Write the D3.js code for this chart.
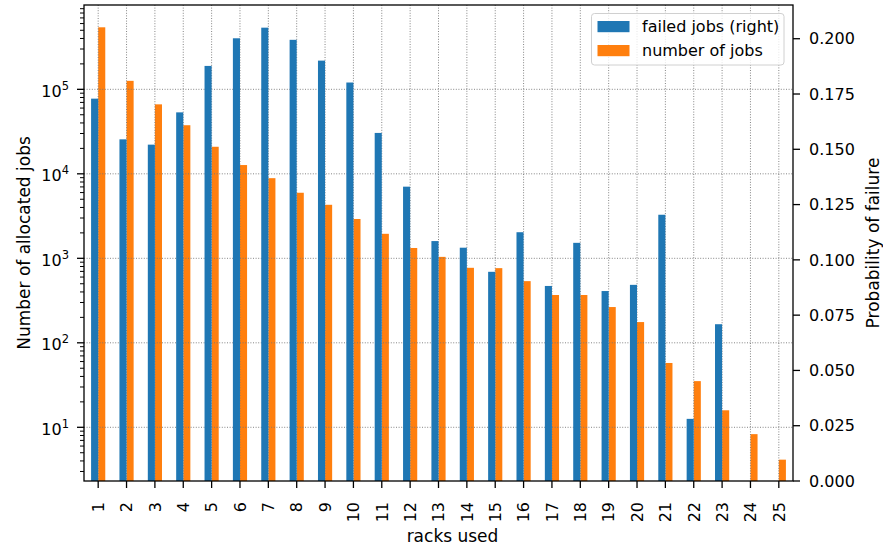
<!DOCTYPE html>
<html><head><meta charset="utf-8">
<script src="https://cdn.jsdelivr.net/npm/d3@7"></script>
<style>
body{margin:0;background:#fff;}
svg{display:block;font-family:"DejaVu Sans",sans-serif;}
</style></head>
<body>
<svg id="chart" width="883" height="550"></svg>
<script>
const categories = ["1","2","3","4","5","6","7","8","9","10","11","12","13","14","15","16","17","18","19","20","21","22","23","24","25"];
const failedJobs = [0.1729,0.1545,0.1521,0.1667,0.1877,0.2002,0.2050,0.1995,0.1901,0.1802,0.1574,0.1331,0.1085,0.1055,0.0946,0.1125,0.0882,0.1077,0.0859,0.0887,0.1204,0.0281,0.0709,0,0];
const numberOfJobs = [542000,126000,66400,37600,20900,12700,8880,5970,4300,2920,1950,1325,1040,772,765,537,368,368,265,176,57.7,35.2,15.9,8.3,4.14];
const leftTickExps = [1,2,3,4,5];
const rightTicks = [0,0.025,0.05,0.075,0.1,0.125,0.15,0.175,0.2];
const seriesNames = ["failed jobs (right)","number of jobs"];
const colors = ["#1f77b4","#ff7f0e"];

const svg = d3.select("#chart");
const L = 84, R = 793, T = 5, B = 481;
const FS = 16, LFS = 17;

const x = d3.scaleBand().domain(categories).range([L, R]).paddingInner(0).paddingOuter(0);
const bw = x.bandwidth() * 0.25;
const yL = d3.scaleLog().domain([Math.pow(10,0.3645), Math.pow(10,5.998)]).range([B, T]);
const yR = d3.scaleLinear().domain([0, 0.21525]).range([B, T]);

const cx = c => x(c) + x.bandwidth()/2;

// orange bars (left axis)
svg.append("g").selectAll("rect").data(categories).join("rect")
  .attr("x", c => cx(c))
  .attr("width", bw)
  .attr("y", (c,i) => yL(numberOfJobs[i]))
  .attr("height", (c,i) => B - yL(numberOfJobs[i]))
  .attr("fill", colors[1]);

// grid
const grid = svg.append("g").attr("stroke","#777").attr("stroke-width",0.9).attr("stroke-dasharray","1,1.6");
grid.selectAll("line.h").data(leftTickExps).join("line")
  .attr("x1", L).attr("x2", R)
  .attr("y1", e => yL(Math.pow(10,e))).attr("y2", e => yL(Math.pow(10,e)));
grid.selectAll("line.v").data(categories).join("line")
  .attr("x1", c => cx(c)).attr("x2", c => cx(c))
  .attr("y1", T).attr("y2", B);

// blue bars (right axis)
svg.append("g").selectAll("rect").data(categories).join("rect")
  .attr("x", c => cx(c) - bw)
  .attr("width", bw)
  .attr("y", (c,i) => yR(failedJobs[i]))
  .attr("height", (c,i) => B - yR(failedJobs[i]))
  .attr("fill", colors[0]);

// spines
svg.append("rect").attr("x",L).attr("y",T).attr("width",R-L).attr("height",B-T)
  .attr("fill","none").attr("stroke","#000").attr("stroke-width",1.3);

// left axis ticks
const lt = svg.append("g");
const minors = [];
for (let e = 0; e <= 5; e++) for (let m = 2; m <= 9; m++) {
  const v = m*Math.pow(10,e);
  if (yL(v) <= B && yL(v) >= T) minors.push(v);
}
lt.selectAll("line.mi").data(minors).join("line")
  .attr("x1", L-4).attr("x2", L).attr("y1", v=>yL(v)).attr("y2", v=>yL(v))
  .attr("stroke","#000").attr("stroke-width",1);
lt.selectAll("line.ma").data(leftTickExps).join("line")
  .attr("x1", L-7).attr("x2", L).attr("y1", e=>yL(Math.pow(10,e))).attr("y2", e=>yL(Math.pow(10,e)))
  .attr("stroke","#000").attr("stroke-width",1.3);
const ltl = lt.selectAll("text").data(leftTickExps).join("text")
  .attr("x", L-15).attr("y", e => yL(Math.pow(10,e)) + 7.5)
  .attr("text-anchor","end").attr("font-size",FS).attr("fill","#000");
ltl.append("tspan").text("10");
ltl.append("tspan").attr("dy",-7).attr("font-size",11.5).text(e => e);

// right axis ticks
const rt = svg.append("g");
rt.selectAll("line").data(rightTicks).join("line")
  .attr("x1", R).attr("x2", R+7).attr("y1", v=>yR(v)).attr("y2", v=>yR(v))
  .attr("stroke","#000").attr("stroke-width",1.3);
rt.selectAll("text").data(rightTicks).join("text")
  .attr("x", R+16).attr("y", v=>yR(v)).attr("dy","0.36em")
  .attr("font-size",FS).attr("fill","#000")
  .text(d3.format(".3f"));

// x axis ticks
const xt = svg.append("g");
xt.selectAll("line").data(categories).join("line")
  .attr("x1", c=>cx(c)).attr("x2", c=>cx(c)).attr("y1", B).attr("y2", B+7)
  .attr("stroke","#000").attr("stroke-width",1.3);
xt.selectAll("text").data(categories).join("text")
  .attr("transform", c => `translate(${cx(c)},${502}) rotate(-90)`)
  .attr("text-anchor","end").attr("dy","0.36em")
  .attr("font-size",FS).attr("fill","#000").text(c=>c);

// axis labels
svg.append("text").attr("transform","translate(29.5,243) rotate(-90)")
  .attr("text-anchor","middle").attr("font-size",LFS).text("Number of allocated jobs");
svg.append("text").attr("transform","translate(879,243) rotate(-90)")
  .attr("text-anchor","middle").attr("font-size",LFS).text("Probability of failure");
svg.append("text").attr("x",452.5).attr("y",541.5)
  .attr("text-anchor","middle").attr("font-size",LFS).text("racks used");

// legend
const lg = svg.append("g");
lg.append("rect").attr("x",591.5).attr("y",13.5).attr("width",192.5).attr("height",51.5)
  .attr("rx",3).attr("fill","#fff").attr("fill-opacity",0.8).attr("stroke","#d0d0d0").attr("stroke-width",1);
seriesNames.forEach((n,i) => {
  lg.append("rect").attr("x",597.5).attr("y",21 + i*24).attr("width",32).attr("height",11.2).attr("fill",colors[i]);
  lg.append("text").attr("x",642).attr("y",32.3 + i*24).attr("font-size",FS).attr("fill","#000").text(n);
});
</script>
</body></html>
